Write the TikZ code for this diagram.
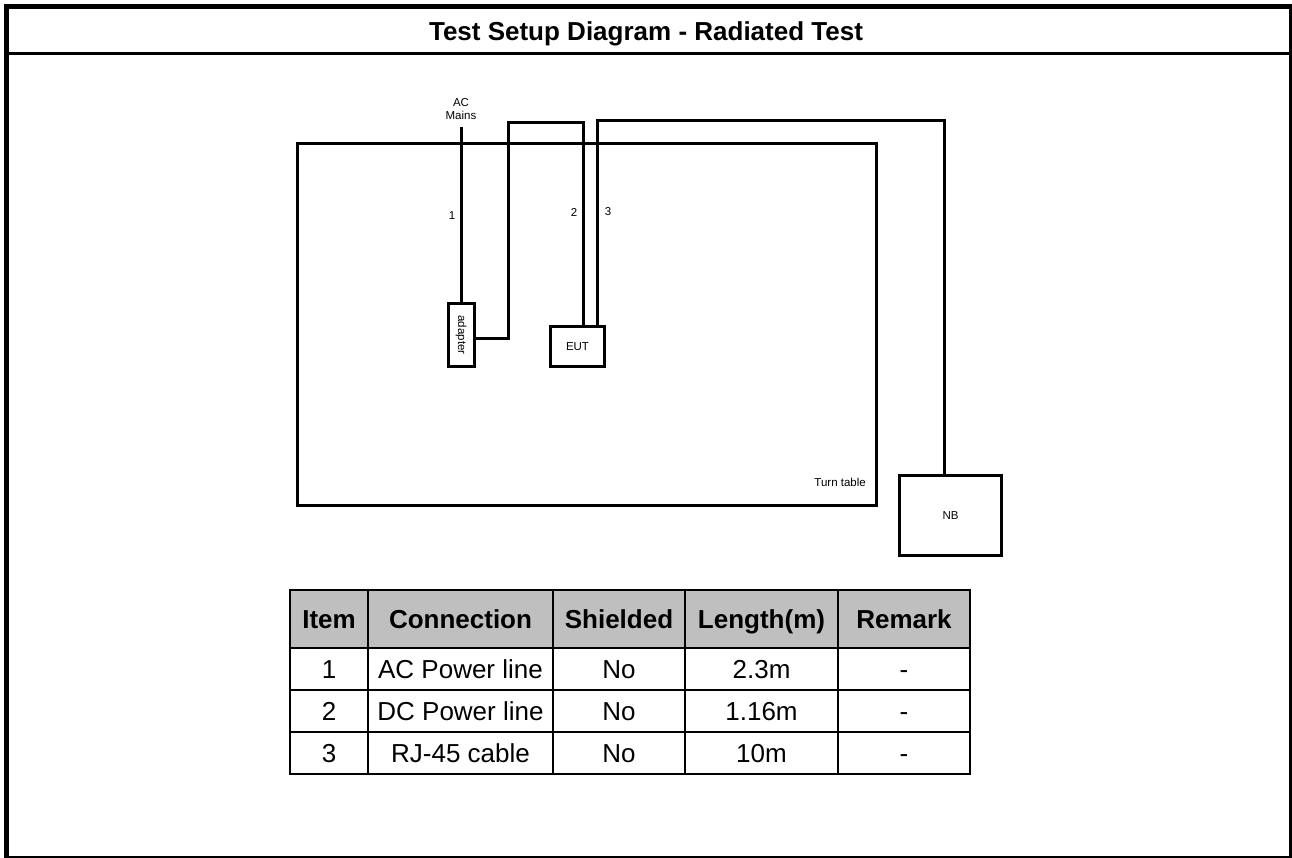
\documentclass[tikz,border=0pt]{standalone}
\usepackage{fontspec}
\setmainfont{Liberation Sans}
\begin{document}
\begin{tikzpicture}[x=1pt,y=-1pt,
  box/.style={draw,line width=3pt,inner sep=0pt,font=\fontsize{11.5}{12}\selectfont},
  wire/.style={line width=3pt},
  lbl/.style={font=\fontsize{11.5}{12}\selectfont,inner sep=0pt},
  cell/.style={font=\fontsize{26}{28}\selectfont,inner sep=0pt,anchor=base},
  hcell/.style={font=\bfseries\fontsize{26}{28}\selectfont,inner sep=0pt,anchor=base},
  grid/.style={line width=2.8pt}]
\useasboundingbox (0,0) rectangle (1292,858);
% outer frame
\draw[line width=4.5pt] (6.5,858) -- (6.5,4);
\draw[line width=4.5pt] (4,6.5) -- (1292,6.5);
\draw[line width=3pt] (1290.5,4) -- (1290.5,858);
\draw[line width=1.6pt] (4,857) -- (1292,857);
\draw[line width=3pt] (6.5,54) -- (1290.5,54);
\node[hcell] (title) at (646,41) {Test Setup Diagram - Radiated Test};
% diagram
\node[box,minimum width=579pt,minimum height=361pt] (turn) at (586.5,324.5) {};
\node[lbl,anchor=south east] (turnlbl) at (866,487) {Turn table};
\node[box,minimum width=26pt,minimum height=62pt] (adapter) at (461,335) {};
\node[lbl,rotate=-90] (adlbl) at (adapter.center) {adapter};
\node[box,minimum width=54pt,minimum height=40pt] (EUT) at (577.5,346.5) {EUT};
\node[box,minimum width=102pt,minimum height=80pt] (NB) at (950.5,515.5) {NB};
\node[lbl,align=center] (ac) at (461,109) {AC\\[1pt]Mains};
\coordinate (acpt) at (461,127);
\draw[wire] (acpt) -- (adapter.north);
\draw[wire] ([yshift=-3pt]adapter.east) -| (508,123) -| ([xshift=5.5pt]EUT.north);
\draw[wire] ([xshift=19.5pt]EUT.north) |- (944,121) -- ([xshift=-6.5pt]NB.north);
\node[lbl] (n1) at (452,216) {1};
\node[lbl] (n2) at (574,212) {2};
\node[lbl] (n3) at (608,212) {3};
% table
\fill[gray!50] (290,590) rectangle (970,648);
\draw[grid] (290,590) rectangle (970,774);
\foreach \y in {648,690,732} \draw[grid] (290,\y) -- (970,\y);
\foreach \x in {368,553,685,838} \draw[grid] (\x,590) -- (\x,774);
\node[hcell] (h1) at (329,628) {Item};
\node[hcell] (h2) at (460.5,628) {Connection};
\node[hcell] (h3) at (619,628) {Shielded};
\node[hcell] (h4) at (761.5,628) {Length(m)};
\node[hcell] (h5) at (904,628) {Remark};
\node[cell] (a1) at (329,678) {1};
\node[cell] (a2) at (460.5,678) {AC Power line};
\node[cell] (a3) at (619,678) {No};
\node[cell] (a4) at (761.5,678) {2.3m};
\node[cell] (a5) at (904,678) {-};
\node[cell] (b1) at (329,720) {2};
\node[cell] (b2) at (460.5,720) {DC Power line};
\node[cell] (b3) at (619,720) {No};
\node[cell] (b4) at (761.5,720) {1.16m};
\node[cell] (b5) at (904,720) {-};
\node[cell] (c1) at (329,762) {3};
\node[cell] (c2) at (460.5,762) {RJ-45 cable};
\node[cell] (c3) at (619,762) {No};
\node[cell] (c4) at (761.5,762) {10m};
\node[cell] (c5) at (904,762) {-};
\end{tikzpicture}
\end{document}
